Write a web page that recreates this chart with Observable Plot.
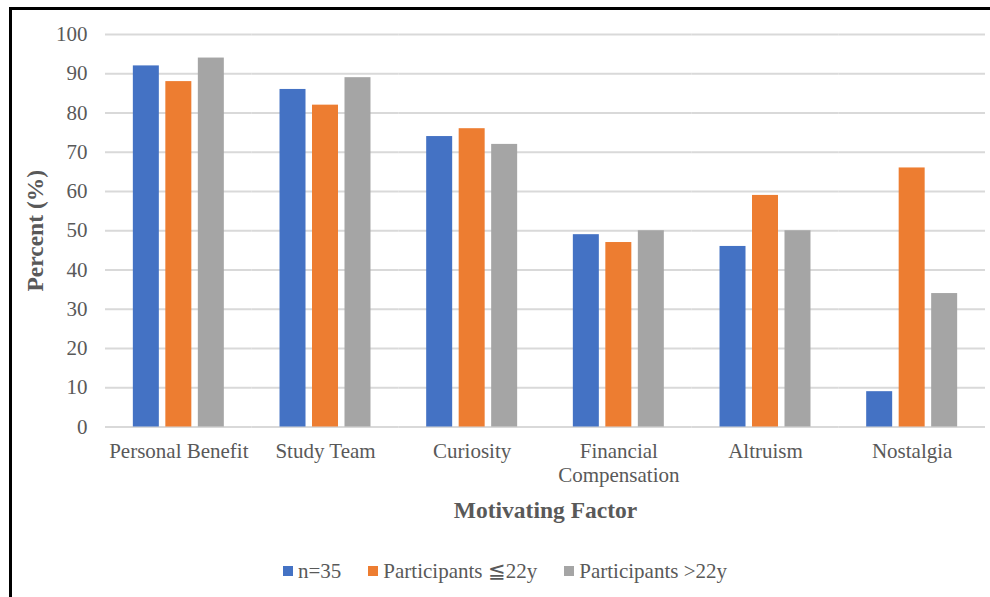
<!DOCTYPE html>
<html><head><meta charset="utf-8">
<script src="https://cdn.jsdelivr.net/npm/d3@7"></script>
<script src="https://cdn.jsdelivr.net/npm/@observablehq/plot@0.6"></script>
<style>
body{margin:0;background:#fff;}
#wrap{position:relative;width:990px;height:597px;overflow:hidden;font-family:"Liberation Serif","Times New Roman",serif;color:#595959;background:#fff;}
#bl{position:absolute;left:9px;top:7px;width:3px;height:600px;background:#000;}
#bt{position:absolute;left:9px;top:7px;width:990px;height:3px;background:#000;}
#chart{position:absolute;left:0;top:0;}
#legend{position:absolute;left:283px;top:559px;display:flex;align-items:center;font-size:21px;white-space:nowrap;line-height:24px;}
.sw{display:inline-block;width:10px;height:10px;margin-right:5px;}
.item{display:flex;align-items:center;margin-right:27px;}
#chart g[aria-label$="axis label"] text{font-weight:bold;font-size:23.5px;}
</style>
</head><body>
<div id="wrap"><div id="chart"></div><div id="bl"></div><div id="bt"></div><div id="legend"></div></div>
<script>
const categories = ["Personal Benefit", "Study Team", "Curiosity", "Financial Compensation", "Altruism", "Nostalgia"];
const categoryLabels = ["Personal Benefit", "Study Team", "Curiosity", "Financial\nCompensation", "Altruism", "Nostalgia"];
const series = ["n=35", "Participants ≦22y", "Participants >22y"];
const colors = ["#4472C4", "#ED7D31", "#A5A5A5"];
const valuesAll = [92, 86, 74, 49, 46, 9];
const valuesYoung = [88, 82, 76, 47, 59, 66];
const valuesOld = [94, 89, 72, 50, 50, 34];
const yTicks = [0, 10, 20, 30, 40, 50, 60, 70, 80, 90, 100];

const seriesValues = [valuesAll, valuesYoung, valuesOld];
const data = [];
categories.forEach((c, i) => series.forEach((s, j) => data.push({category: c, series: s, value: seriesValues[j][i]})));
const labelOf = new Map(categories.map((c, i) => [c, categoryLabels[i]]));

const chart = Plot.plot({
  width: 990, height: 550,
  marginLeft: 105, marginRight: 5, marginTop: 34, marginBottom: 123.5,
  style: {fontFamily: '"Liberation Serif","Times New Roman",serif', fontSize: "21px", color: "#595959", background: "transparent", overflow: "visible"},
  fx: {domain: categories, padding: 0, round: false},
  x: {domain: series, paddingInner: 0.2, paddingOuter: 0.857, round: false, axis: null},
  y: {domain: [0, 100]},
  color: {domain: series, range: colors},
  marks: [
    Plot.ruleY(yTicks, {stroke: "#D9D9D9", strokeWidth: 2}),
    Plot.barY(data, {fx: "category", x: "series", y: "value", fill: "series"}),
    Plot.axisY({ticks: yTicks, tickSize: 0, tickPadding: 18, fontSize: 21, fill: "#595959",
      label: "Percent (%)", labelAnchor: "center", labelArrow: "none", labelOffset: 79}),
    Plot.axisFx({anchor: "bottom", tickSize: 0, tickPadding: 14, fontSize: 21, lineHeight: 1.14, fill: "#595959",
      tickFormat: d => labelOf.get(d), label: "Motivating Factor", labelAnchor: "center", labelArrow: "none", labelOffset: 90.5})
  ]
});
document.getElementById("chart").appendChild(chart);

const legend = document.getElementById("legend");
series.forEach((s, j) => {
  const item = document.createElement("div");
  item.className = "item";
  const sw = document.createElement("span");
  sw.className = "sw";
  sw.style.background = colors[j];
  const t = document.createElement("span");
  t.textContent = s;
  item.appendChild(sw); item.appendChild(t);
  legend.appendChild(item);
});
</script>
</body></html>
